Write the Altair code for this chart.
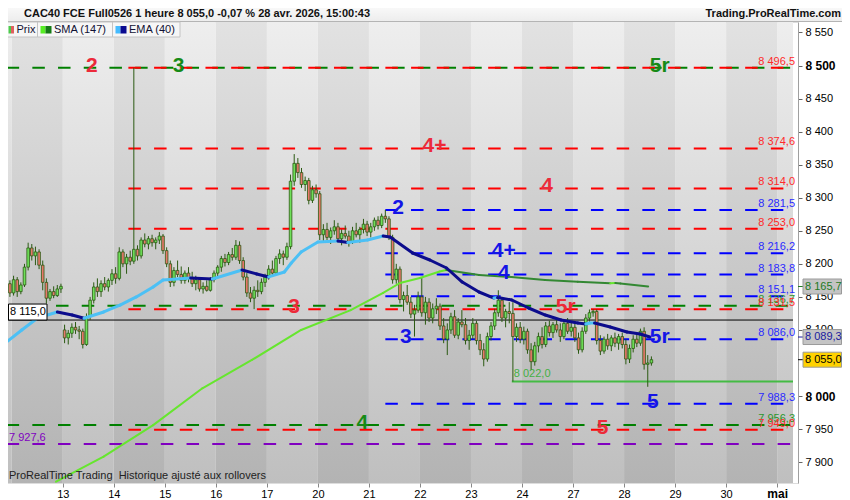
import altair as alt
import pandas as pd

FONT = "Liberation Sans"

# ---------------- data ----------------
day_labels = ["13", "14", "15", "16", "17", "20", "21", "22", "23", "24", "27", "28", "29", "30", "mai"]
# 8 050 is hidden behind the last-price tag in the reference
y_tick_values = [v for v in range(7900, 8551, 50) if v != 8050]

# hourly candles, bar 0 = 13 avr. 08:00 (14 bars per trading day)
first_bar = -16
opens = [
    8160, 8170, 8156, 8176, 8158, 8168, 8195, 8224, 8212, 8218, 8198, 8172, 8148, 8158, 8152, 8162,
    8100, 8088, 8095, 8104, 8100, 8098, 8078, 8120, 8145, 8165, 8158, 8170, 8165, 8175,
    8185, 8178, 8218, 8200, 8210, 8204, 8222, 8212, 8236, 8230, 8238, 8232, 8236, 8242,
    8220, 8200, 8172, 8190, 8184, 8175, 8186, 8178, 8170, 8176, 8162, 8166, 8160, 8176,
    8186, 8195, 8208, 8202, 8214, 8210, 8228, 8205, 8180, 8156, 8148, 8160, 8158, 8172,
    8180, 8192, 8186, 8208, 8215, 8210, 8226, 8325, 8352, 8338, 8320, 8326, 8296, 8312,
    8306, 8244, 8252, 8240, 8250, 8256, 8238, 8246, 8242, 8234, 8250, 8244, 8252, 8260,
    8248, 8256, 8266, 8258, 8272, 8268, 8240, 8176, 8192, 8146, 8152, 8142, 8124, 8130,
    8150, 8126, 8142, 8118, 8132, 8136, 8106, 8086, 8100, 8120, 8092, 8112, 8108, 8084,
    8092, 8110, 8084, 8070, 8056, 8090, 8106, 8126, 8145, 8118, 8128, 8125, 8090, 8104,
    8086, 8098, 8070, 8052, 8076, 8090, 8078, 8106, 8096, 8108, 8100, 8090, 8110, 8098,
    8104, 8088, 8070, 8098, 8118, 8126, 8128, 8084, 8068, 8086, 8076, 8088, 8080, 8090,
    8078, 8056, 8072, 8086, 8080, 8098, 8048, 8050,
]
highs = [
    8178, 8175, 8182, 8180, 8172, 8200, 8232, 8230, 8226, 8222, 8205, 8178, 8162, 8166, 8168, 8170,
    8108, 8100, 8110, 8112, 8106, 8102, 8125, 8150, 8172, 8178, 8175, 8180, 8178, 8192,
    8195, 8225, 8222, 8215, 8220, 8496.5, 8228, 8240, 8246, 8242, 8244, 8240, 8248, 8245,
    8225, 8205, 8195, 8205, 8196, 8190, 8195, 8188, 8182, 8180, 8172, 8175, 8180, 8190,
    8198, 8212, 8215, 8218, 8224, 8236, 8234, 8210, 8186, 8165, 8166, 8175, 8178, 8185,
    8198, 8205, 8212, 8222, 8220, 8232, 8335, 8366, 8360, 8345, 8332, 8330, 8318, 8320,
    8310, 8260, 8262, 8255, 8266, 8262, 8252, 8258, 8250, 8256, 8262, 8256, 8268, 8265,
    8262, 8270, 8272, 8276, 8281.5, 8272, 8244, 8200, 8196, 8158, 8168, 8150, 8138, 8158,
    8180, 8150, 8148, 8140, 8148, 8140, 8118, 8110, 8126, 8130, 8118, 8130, 8118, 8100,
    8118, 8114, 8094, 8080, 8096, 8112, 8132, 8160, 8150, 8132, 8142, 8142, 8110, 8112,
    8105, 8102, 8080, 8082, 8096, 8104, 8112, 8114, 8112, 8116, 8110, 8114, 8118, 8112,
    8110, 8096, 8104, 8124, 8131, 8131.5, 8131, 8092, 8090, 8094, 8092, 8096, 8094, 8096,
    8086, 8078, 8092, 8094, 8102, 8104, 8062, 8060,
]
lows = [
    8155, 8150, 8152, 8150, 8154, 8165, 8190, 8205, 8198, 8192, 8160, 8140, 8144, 8148, 8150, 8156,
    8080, 8078, 8088, 8094, 8086, 8072, 8076, 8115, 8140, 8150, 8150, 8160, 8158, 8168,
    8170, 8175, 8195, 8185, 8198, 8200, 8205, 8208, 8225, 8222, 8226, 8222, 8230, 8215,
    8195, 8165, 8166, 8180, 8170, 8170, 8172, 8165, 8160, 8158, 8155, 8158, 8158, 8172,
    8180, 8188, 8196, 8198, 8205, 8206, 8200, 8175, 8150, 8142, 8131.5, 8150, 8154, 8165,
    8176, 8182, 8184, 8200, 8198, 8206, 8222, 8318, 8330, 8315, 8310, 8290, 8292, 8300,
    8236, 8232, 8236, 8230, 8244, 8232, 8228, 8238, 8226, 8230, 8240, 8232, 8246, 8242,
    8240, 8250, 8252, 8254, 8262, 8236, 8170, 8170, 8140, 8128, 8138, 8118, 8090, 8126,
    8120, 8108, 8112, 8110, 8124, 8100, 8080, 8062, 8094, 8088, 8086, 8104, 8078, 8070,
    8086, 8078, 8062, 8045, 8052, 8084, 8100, 8120, 8112, 8104, 8110, 8022, 8082, 8080,
    8078, 8064, 8040, 8046, 8066, 8072, 8074, 8090, 8088, 8096, 8082, 8086, 8094, 8090,
    8082, 8064, 8066, 8094, 8110, 8120, 8078, 8062, 8064, 8070, 8068, 8074, 8070, 8072,
    8048, 8050, 8066, 8074, 8076, 8040, 8014, 8046,
]
closes = [
    8170, 8156, 8176, 8158, 8168, 8195, 8224, 8212, 8218, 8198, 8172, 8148, 8158, 8152, 8162, 8166,
    8088, 8095, 8104, 8100, 8098, 8078, 8120, 8145, 8165, 8158, 8170, 8165, 8175, 8185,
    8178, 8218, 8200, 8210, 8204, 8222, 8212, 8236, 8230, 8238, 8232, 8236, 8242, 8220,
    8200, 8172, 8190, 8184, 8175, 8186, 8178, 8170, 8176, 8162, 8166, 8160, 8176, 8186,
    8195, 8208, 8202, 8214, 8210, 8228, 8205, 8180, 8156, 8148, 8160, 8158, 8172, 8180,
    8192, 8186, 8208, 8215, 8210, 8226, 8325, 8352, 8338, 8320, 8326, 8296, 8312, 8306,
    8244, 8252, 8240, 8250, 8256, 8238, 8246, 8242, 8234, 8250, 8244, 8252, 8260, 8248,
    8256, 8266, 8258, 8272, 8268, 8240, 8176, 8192, 8146, 8152, 8142, 8124, 8130, 8150,
    8126, 8142, 8118, 8132, 8136, 8106, 8086, 8100, 8120, 8092, 8112, 8108, 8084, 8092,
    8110, 8084, 8070, 8056, 8090, 8106, 8126, 8145, 8118, 8128, 8125, 8090, 8104, 8086,
    8098, 8070, 8052, 8076, 8090, 8078, 8106, 8096, 8108, 8100, 8090, 8110, 8098, 8104,
    8088, 8070, 8098, 8118, 8126, 8128, 8084, 8068, 8086, 8076, 8088, 8080, 8090, 8078,
    8056, 8072, 8086, 8080, 8098, 8048, 8050, 8055,
]

# SMA(147) and EMA(40) (bar position, value)
sma_bar = [-1.84, 11.2, 24.8, 38.3, 51.9, 65.4, 79.0, 87.9, 92.5, 98.0, 103.4, 105.2,
           114.2, 123.1, 132.3, 141.3, 150.2, 151.6, 153.0, 160.6]
sma_val = [7870.5, 7908.3, 7956.0, 8011.8, 8054.6, 8100.0, 8130.0, 8156.0, 8171.0, 8178.5, 8188.5, 8190.7,
           8183.0, 8180.0, 8175.6, 8173.0, 8170.6, 8171.0, 8170.3, 8165.7]
ema_bar = [-15.85, -11.24, -6.91, -1.49, 2.57, 5.83, 11.24, 15.85, 20.18, 24.79, 27.5, 35.1, 41.05,
           49.2, 53.2, 56.5, 60.8, 62.7, 65.4, 70.0, 75.5, 78.2, 83.6, 87.9, 89.8, 96.0, 100.7,
           105.3, 109.6, 114.2, 118.3, 119.3, 123.2, 127.8, 132.4, 136.7, 141.3, 143.5, 144.6,
           145.9, 150.2, 154.8, 158.4, 161.1]
ema_val = [8079.9, 8100.0, 8118.1, 8127.2, 8122.7, 8117.7, 8127.2, 8137.8, 8149.9, 8165.0, 8175.6, 8178.6, 8177.1,
           8190.7, 8184.7, 8180.2, 8187.7, 8201.3, 8218.0, 8233.1, 8234.6, 8232.3, 8236.1, 8242.1, 8240.6, 8216.4, 8205.8,
           8193.7, 8172.5, 8157.4, 8148.3, 8149.1, 8145.3, 8133.2, 8122.6, 8115.1, 8110.5, 8109.0, 8110.5,
           8110.5, 8104.4, 8096.9, 8093.8, 8089.3]

# horizontal levels
level_val = [8496.5, 8496.5, 8374.6, 8314.0, 8281.5, 8253.0, 8216.2, 8183.8, 8151.1, 8136.7,
             8131.5, 8086.0, 7988.3, 7956.3, 7949.0, 7927.6]
level_kind = ["green", "red", "red", "red", "blue", "red", "blue", "blue", "blue", "green",
              "red", "blue", "blue", "green", "red", "purple"]
level_from = [-15.4, 18.0, 18.0, 18.0, 88.5, 18.0, 88.5, 88.5, 88.5, -1.85,
              18.0, 88.5, 88.5, -15.4, 18.0, -15.4]

# level tags written at the right end of the lines
tag_val = [8496.5, 8374.6, 8314.0, 8281.5, 8253.0, 8216.2, 8183.8, 8151.1, 8136.7, 8131.5,
           8086.0, 7988.3, 7956.3, 7949.0]
tag_kind = ["red", "red", "red", "blue", "red", "blue", "blue", "blue", "green", "red",
            "blue", "blue", "green", "red"]

# big level names
name_text = ["2", "3", "5r", "4+", "4", "2", "4+", "4", "5r", "3", "3", "5r", "5", "4", "5"]
name_kind = ["red", "green", "green", "red", "red", "blue", "blue", "blue", "red", "red",
             "blue", "blue", "blue", "green", "red"]
name_level = [8496.5, 8496.5, 8496.5, 8374.6, 8314.0, 8281.5, 8216.2, 8183.8, 8131.5, 8131.5,
              8086.0, 8086.0, 7988.3, 7956.3, 7949.0]
name_bar = [8.0, 31.8, 163.8, 102.0, 132.9, 92.0, 121.0, 121.0, 138.0, 63.5, 94.1, 163.8, 161.9, 82.2, 148.1]

ref_close = 8115.0
low_level = 8022.0
low_from = 123.2
purple_level = 7927.6
last_price = 8055.0
last_sma = 8165.7
last_ema = 8089.3

header_text = "CAC40 FCE Full0526 1 heure 8 055,0 -0,07 % 28 avr. 2026, 15:00:43"
site_text = "Trading.ProRealTime.com"
footer_text = "ProRealTime Trading\u00a0\u00a0Historique ajusté aux rollovers"
legend_names = ["Prix", "SMA (147)", "EMA (40)"]

# ---------------- layout / style ----------------
W, H = 798, 461
XMIN, XMAX = -15.85, 200.35
YMIN, YMAX = 7868.5, 8565.8
BPD = 14
PX_PER_PT = H / (YMAX - YMIN)

LINE_COL = {"red": "#ff0000", "blue": "#0000ff", "green": "#008000", "purple": "#8000c0"}
NAME_COL = {"red": "#ec2a3a", "blue": "#1414e6", "green": "#168a16"}
TAG_COL = {"red": "#ff2a2a", "blue": "#2a2aff", "green": "#2a962a"}
WICK = "#2b5a12"
UP, DOWN = "#6fe05a", "#e8786c"
SMA_UP, SMA_DN = "#66e62e", "#338833"
EMA_UP, EMA_DN = "#4cc0f5", "#0c0c8c"

xscale = alt.Scale(domain=[XMIN, XMAX], nice=False, zero=False)
yscale = alt.Scale(domain=[YMIN, YMAX], nice=False, zero=False)

x_axis = alt.Axis(orient="bottom", values=[BPD * k for k in range(len(day_labels))],
                  labelExpr="[" + ",".join(f"'{d}'" for d in day_labels) + f"][round(datum.value / {BPD})]",
                  domain=False, ticks=True, tickSize=4, tickColor="#888888", grid=False, title=None,
                  labelFont=FONT, labelColor="#000000", labelPadding=1, labelFlush=False, labelOverlap=False,
                  labelFontSize={"condition": {"test": f"datum.value >= {BPD * 14}", "value": 12}, "value": 11},
                  labelFontWeight={"condition": {"test": f"datum.value >= {BPD * 14}", "value": "bold"},
                                   "value": "normal"})
y_axis = alt.Axis(orient="right", values=y_tick_values,
                  labelExpr="replace(format(datum.value, ','), ',', ' ')",
                  domain=True, domainColor="#a0a0a0", ticks=True, tickSize=4, tickColor="#666666",
                  grid=False, title=None, labelFont=FONT, labelColor="#000000", labelPadding=3,
                  labelFlush=False, labelOverlap=False, labelBaseline="middle",
                  labelFontSize={"condition": {"test": "datum.value % 500 == 0", "value": 12}, "value": 11},
                  labelFontWeight={"condition": {"test": "datum.value % 500 == 0", "value": "bold"},
                                   "value": "normal"})


def X(f):
    return alt.X(f, type="quantitative", scale=xscale, axis=x_axis)


def Y(f):
    return alt.Y(f, type="quantitative", scale=yscale, axis=y_axis)


def fmt(v):
    return f"{v:,.1f}".replace(",", " ").replace(".", ",")


one = pd.DataFrame({"k": [0]})

# background day bands
band_rows = []
for k in range(-2, 15):
    x0, x1 = max(k * BPD, XMIN), min((k + 1) * BPD, XMAX)
    if x1 > x0:
        band_rows.append({"x0": x0, "x1": x1, "light": k % 2 == 0})
bands = pd.DataFrame(band_rows)


def grad(c0, c1):
    return alt.LinearGradient(gradient="linear",
                              stops=[alt.GradientStop(color=c0, offset=0), alt.GradientStop(color=c1, offset=1)],
                              x1=0, x2=0, y1=0, y2=1)


band_light = alt.Chart(bands[bands.light]).mark_rect(fill=grad("#eeeeee", "#bfbfbf"), clip=True).encode(
    x=X("x0"), x2="x1", y=alt.value(0), y2=alt.value(H))
band_dark = alt.Chart(bands[~bands.light]).mark_rect(fill=grad("#e2e2e2", "#b3b3b3"), clip=True).encode(
    x=X("x0"), x2="x1", y=alt.value(0), y2=alt.value(H))

levels = pd.DataFrame({"v": level_val, "x0": level_from, "x1": XMAX,
                       "col": [LINE_COL[k] for k in level_kind]})
level_rules = alt.Chart(levels).mark_rule(strokeWidth=2, strokeDash=[12.5, 13.2], clip=True).encode(
    x=X("x0"), x2="x1", y=Y("v"), color=alt.Color("col:N", scale=None))

ref_df = pd.DataFrame({"v": [ref_close], "x0": [XMIN], "x1": [XMAX]})
ref_rule = alt.Chart(ref_df).mark_rule(color="#000000", strokeWidth=1).encode(x=X("x0"), x2="x1", y=Y("v"))

low_df = pd.DataFrame({"v": [low_level], "x0": [low_from], "x1": [XMAX], "t": [fmt(low_level)]})
low_rule = alt.Chart(low_df).mark_rule(color="#44bb44", strokeWidth=2).encode(x=X("x0"), x2="x1", y=Y("v"))
low_text = alt.Chart(low_df).mark_text(font=FONT, fontSize=11, color="#44b044", align="left",
                                       baseline="middle", dx=2, dy=-8).encode(x=X("x0"), y=Y("v"), text="t:N")

# candles
n = len(closes)
candles = pd.DataFrame({"b": [first_bar + i + 0.5 for i in range(n)], "o": opens, "h": highs,
                        "l": lows, "c": closes})
candles["lo"] = candles[["o", "c"]].min(axis=1)
candles["hi"] = candles[["o", "c"]].max(axis=1)

wicks = alt.Chart(candles).mark_rule(color=WICK, strokeWidth=1).encode(
    x=X("b"), y=Y("l"), y2="h:Q")
bodies = alt.Chart(candles).mark_bar(width=2.6, stroke=WICK, strokeWidth=0.8).encode(
    x=X("b"), y=Y("lo"), y2="hi",
    color=alt.condition("datum.c >= datum.o", alt.value(UP), alt.value(DOWN)))


def segments(bars, vals, up, dn):
    rows = []
    for i in range(len(bars) - 1):
        rows.append({"x0": bars[i], "y0": vals[i], "x1": bars[i + 1], "y1": vals[i + 1],
                     "col": up if vals[i + 1] >= vals[i] else dn})
    return pd.DataFrame(rows)


sma_line = alt.Chart(segments(sma_bar, sma_val, SMA_UP, SMA_DN)).mark_rule(
    strokeWidth=2, strokeCap="round", clip=True).encode(
    x=X("x0"), y=Y("y0"), x2="x1", y2="y1", color=alt.Color("col:N", scale=None))
ema_line = alt.Chart(segments(ema_bar, ema_val, EMA_UP, EMA_DN)).mark_rule(
    strokeWidth=3, strokeCap="round", clip=True).encode(
    x=X("x0"), y=Y("y0"), x2="x1", y2="y1", color=alt.Color("col:N", scale=None))

tags = pd.DataFrame({"v": tag_val, "t": [fmt(v) for v in tag_val], "col": [TAG_COL[k] for k in tag_kind]})
tag_text = alt.Chart(tags).mark_text(font=FONT, fontSize=11, align="right", baseline="alphabetic", dy=-3).encode(
    x=alt.value(795), y=Y("v"), text="t:N", color=alt.Color("col:N", scale=None))

names = pd.DataFrame({"b": name_bar, "v": name_level, "t": name_text, "col": [NAME_COL[k] for k in name_kind]})
name_marks = alt.Chart(names).mark_text(font=FONT, fontSize=21, fontWeight="bold", align="center",
                                        baseline="middle", dy=-2).encode(
    x=X("b"), y=Y("v"), text="t:N", color=alt.Color("col:N", scale=None))

# left labels (kept just inside the visible page edge)
ref_box_df = pd.DataFrame({"v": [ref_close], "top": [ref_close + 16 / PX_PER_PT], "t": [fmt(ref_close)]})
ref_box = alt.Chart(ref_box_df).mark_rect(fill="#ffffff", stroke="#000000", strokeWidth=1).encode(
    x=alt.value(8.5), x2=alt.value(47), y=Y("top"), y2="v")
ref_text = alt.Chart(ref_box_df).mark_text(font=FONT, fontSize=11, color="#000000", align="left",
                                           baseline="middle", dy=-8).encode(x=alt.value(10), y=Y("v"), text="t:N")
purple_df = pd.DataFrame({"v": [purple_level], "t": [fmt(purple_level)]})
purple_text = alt.Chart(purple_df).mark_text(font=FONT, fontSize=11, color="#8000c0", align="left",
                                             baseline="alphabetic", dy=-3).encode(
    x=alt.value(9), y=Y("v"), text="t:N")

# right price boxes
half = 7.5 / PX_PER_PT
price_df = pd.DataFrame({"v": [last_sma, last_ema, last_price],
                         "t": [fmt(last_sma), fmt(last_ema), fmt(last_price)],
                         "fill": ["#c4c4c4", "#c4c4c4", "#ffd200"],
                         "tc": ["#1e7a1e", "#1a1aa0", "#000000"]})
price_df["lo"] = price_df.v - half
price_df["hi"] = price_df.v + half
price_ticks = alt.Chart(price_df).mark_rule(strokeWidth=1).encode(
    x=alt.value(798), x2=alt.value(803), y=Y("v"), color=alt.Color("tc:N", scale=None))
price_box = alt.Chart(price_df).mark_rect(stroke="#9a9a9a", strokeWidth=1).encode(
    x=alt.value(803), x2=alt.value(841.5), y=Y("lo"), y2="hi", fill=alt.Color("fill:N", scale=None))
price_text = alt.Chart(price_df).mark_text(font=FONT, fontSize=11, align="left", baseline="middle").encode(
    x=alt.value(805), y=Y("v"), text="t:N", color=alt.Color("tc:N", scale=None))

# header / legend / footer chrome
header_bg = alt.Chart(one).mark_rect(fill=grad("#ffffff", "#ededed")).encode(
    x=alt.value(0), x2=alt.value(850), y=alt.value(-22), y2=alt.value(-1))
header_line = alt.Chart(one).mark_rule(color="#b4b4b4", strokeWidth=1).encode(
    x=alt.value(0), x2=alt.value(850), y=alt.value(-0.5))
header_left = alt.Chart(one).mark_text(text=header_text, font=FONT, fontSize=11, fontWeight="bold",
                                       color="#111111", align="left", baseline="middle").encode(
    x=alt.value(24), y=alt.value(-8.5))
header_right = alt.Chart(one).mark_text(text=site_text, font=FONT, fontSize=11, fontWeight="bold",
                                        color="#111111", align="right", baseline="middle").encode(
    x=alt.value(841), y=alt.value(-8.5))

legend_df = pd.DataFrame({
    "label": legend_names,
    "bx0": [0, 37.5, 112.5], "bx1": [37.5, 112.5, 180],
    "c1": ["#4ccc4c", "#55ee22", "#44bbff"], "c2": ["#e06060", "#147a14", "#0a0a90"],
})
legend_df["i0"] = legend_df.bx0 + 3
legend_df["i1"] = legend_df.bx0 + 8
legend_df["i2"] = legend_df.bx0 + 14
legend_df["tx"] = legend_df.bx0 + 16.5
legend_df.loc[0, ["i0", "i1", "i2"]] = [8.5, 11, 14]
legend_box = alt.Chart(legend_df).mark_rect(fill="#f6f6f6", stroke="#c4c4c4", strokeWidth=1).encode(
    x=alt.X("bx0:Q", scale=None, axis=None), x2="bx1", y=alt.value(0), y2=alt.value(15))
legend_i1 = alt.Chart(legend_df).mark_rect().encode(
    x=alt.X("i0:Q", scale=None, axis=None), x2="i1", y=alt.value(4), y2=alt.value(11.5),
    fill=alt.Color("c1:N", scale=None))
legend_i2 = alt.Chart(legend_df).mark_rect().encode(
    x=alt.X("i1:Q", scale=None, axis=None), x2="i2", y=alt.value(4), y2=alt.value(11.5),
    fill=alt.Color("c2:N", scale=None))
legend_txt = alt.Chart(legend_df).mark_text(font=FONT, fontSize=11, color="#111133", align="left",
                                            baseline="middle").encode(
    x=alt.X("tx:Q", scale=None, axis=None), y=alt.value(7.8), text="label:N")

footer = alt.Chart(one).mark_text(text=footer_text, font=FONT, fontSize=11, color="#222222",
                                  align="left", baseline="middle").encode(x=alt.value(9), y=alt.value(454))

chart = alt.layer(
    band_light, band_dark, level_rules, ref_rule, low_rule, low_text,
    wicks, bodies, sma_line, ema_line,
    tag_text, name_marks, ref_box, ref_text, purple_text,
    price_ticks, price_box, price_text,
    header_bg, header_line, header_left, header_right,
    legend_box, legend_i1, legend_i2, legend_txt, footer,
).properties(
    width=W, height=H,
    autosize=alt.AutoSizeParams(type="none"),
    # svg = 834 wide so it fits the page body (plot origin lands at page x=0, y=22)
    padding={"left": -8, "top": 14, "right": 44, "bottom": 17},
).configure_view(stroke=None).configure(background="#ffffff")

chart.save("out.html", embed_options={"renderer": "svg", "actions": False})
